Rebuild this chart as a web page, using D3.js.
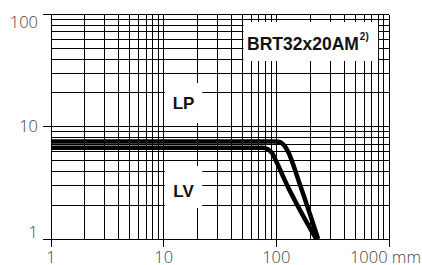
<!DOCTYPE html>
<html>
<head>
<meta charset="utf-8">
<script src="https://cdn.jsdelivr.net/npm/d3@7"></script>
<style>
  body { margin: 0; background: #fff; }
  svg { display: block; }
</style>
</head>
<body>
<script>
// data
var xTickValues = [1, 10, 100, 1000];
var xTickLabels = ["1", "10", "100", "1000 mm"];
var yTickValues = [1, 10, 100];
var yTickLabels = ["1", "10", "100"];

var lpX = [1, 100, 108, 116, 125, 163, 235];
var lpY = [7.4, 7.4, 7.3, 6.9, 6.2, 3.0, 1];
var lvX = [1, 75, 84, 92, 98, 125, 226];
var lvY = [6.5, 6.5, 6.3, 5.8, 5.1, 3.0, 1];

var curveNames = ["LP", "LV"];
var title = "BRT32x20AM";
var titleNote = "2)";

var width = 422;
var height = 265;
// note: "top" is taken by window.top, so plot edges get their own names
var plotLeft = 51, plotRight = 389, plotTop = 14.5, plotBottom = 239;

var svg = d3.select("body")
            .append("svg")
            .attr("width", width)
            .attr("height", height);

var x = d3.scaleLog().domain([1, 1000]).range([plotLeft, plotRight]);
var y = d3.scaleLog().domain([1, 100]).range([plotBottom, plotTop]);

var grid = svg.append("g")
              .attr("stroke", "#000")
              .attr("stroke-width", 1)
              .attr("shape-rendering", "crispEdges");

// vertical grid lines (1..9 per decade)
grid.selectAll(".vx")
    .data(x.ticks())
    .enter()
        .append("line")
        .attr("x1", function(d) { return x(d); })
        .attr("x2", function(d) { return x(d); })
        .attr("y1", y(100))
        .attr("y2", y(1));

grid.selectAll(".hy")
    .data(y.ticks())
    .enter()
        .append("line")
        .attr("x1", x(1))
        .attr("x2", x(1000))
        .attr("y1", function(d) { return y(d); })
        .attr("y2", function(d) { return y(d); });

// major ticks poking out of the frame
grid.selectAll(".tx")
    .data(xTickValues)
    .enter()
        .append("line")
        .attr("x1", function(d) { return x(d); })
        .attr("x2", function(d) { return x(d); })
        .attr("y1", y(1))
        .attr("y2", y(1) + 8);

grid.selectAll(".ty")
    .data(yTickValues)
    .enter()
        .append("line")
        .attr("x1", x(1) - 8)
        .attr("x2", x(1))
        .attr("y1", function(d) { return y(d); })
        .attr("y2", function(d) { return y(d); });

// white label boxes
var boxes = [
    [x(10) + 1, 83, x(22), 123],
    [x(10) + 1, 166, x(22), 208],
    [x(50) + 1, 22, x(800), 61]
];
svg.selectAll(".box")
    .data(boxes)
    .enter()
        .append("rect")
        .attr("x", function(d) { return d[0]; })
        .attr("y", function(d) { return d[1]; })
        .attr("width", function(d) { return d[2] - d[0]; })
        .attr("height", function(d) { return d[3] - d[1]; })
        .attr("fill", "#fff");

// curves
var line = d3.line()
             .x(function(d) { return x(d[0]); })
             .y(function(d) { return y(d[1]); })
             .curve(d3.curveMonotoneX);

var curves = [d3.zip(lpX, lpY), d3.zip(lvX, lvY)];
svg.selectAll(".curve")
    .data(curves)
    .enter()
        .append("path")
        .attr("d", line)
        .attr("fill", "none")
        .attr("stroke", "#000")
        .attr("stroke-width", 4.5)
        .attr("stroke-linejoin", "round");

// curve labels
var labelFont = "'Liberation Sans', Arial, sans-serif";
svg.selectAll(".cname")
    .data(curveNames)
    .enter()
        .append("text")
        .attr("x", 183.5)
        .attr("y", function(d, i) { return i == 0 ? 109 : 197; })
        .attr("text-anchor", "middle")
        .attr("font-family", labelFont)
        .attr("font-weight", "bold")
        .attr("font-size", 17)
        .attr("fill", "#111")
        .text(function(d) { return d; });

var t = svg.append("text")
           .attr("x", 247)
           .attr("y", 50)
           .attr("font-family", labelFont)
           .attr("font-weight", "bold")
           .attr("font-size", 17.5)
           .attr("fill", "#111");
t.append("tspan").text(title);
t.append("tspan")
    .attr("dy", -10)
    .attr("dx", 1)
    .attr("font-size", 10)
    .text(titleNote);

// tick labels
var tickFont = "'Open Sans', sans-serif";
svg.selectAll(".xl")
    .data(xTickLabels)
    .enter()
        .append("text")
        .attr("y", 262.5)
        .attr("font-family", tickFont)
        .attr("font-weight", 300)
        .attr("font-size", 16.5)
        .attr("fill", "#444")
        .text(function(d) { return d; })
        .each(function(d, i) {
            var w = this.getComputedTextLength();
            var cx = x(xTickValues[i]) - w / 2;
            if (cx + w > width - 1) cx = width - 1 - w;
            d3.select(this).attr("x", cx);
        });

svg.selectAll(".yl")
    .data(yTickLabels)
    .enter()
        .append("text")
        .attr("x", 38)
        .attr("y", function(d, i) {
            var cy = y(yTickValues[i]);
            return Math.max(plotTop + 8, Math.min(plotBottom - 7, cy)) + 5.5;
        })
        .attr("text-anchor", "end")
        .attr("font-family", tickFont)
        .attr("font-weight", 300)
        .attr("font-size", 16.5)
        .attr("fill", "#444")
        .text(function(d) { return d; })
</script>
</body>
</html>
